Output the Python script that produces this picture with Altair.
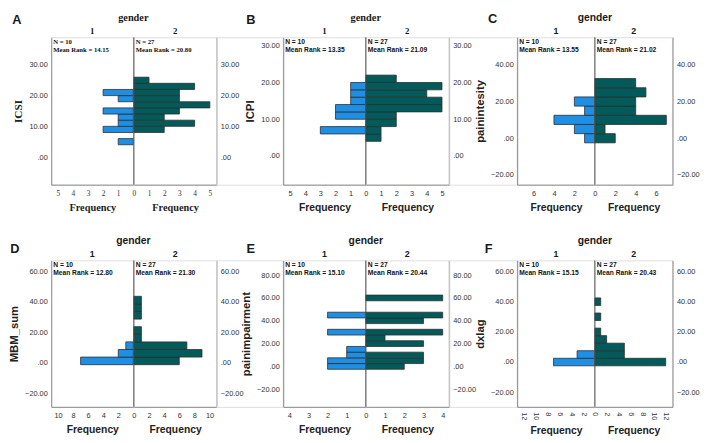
import altair as alt
import pandas as pd

# ---------------- data ----------------
letters = ["A", "B", "C", "D", "E", "F"]
variables = ["ICSI", "ICPI", "painintesity", "MBM_sum", "painimpairment", "dxlag"]
facet_title = "gender"
group_names = ["1", "2"]
n_g1 = [10, 10, 10, 10, 10, 10]
n_g2 = [27, 27, 27, 27, 27, 27]
rank_g1 = ["14.15", "13.35", "13.55", "12.80", "15.10", "15.15"]
rank_g2 = ["20.80", "21.09", "21.02", "21.30", "20.44", "20.43"]
bin_width = [2, 2, 5, 5, 5, 5]

A_lo = [4, 6, 8, 10, 12, 14, 16, 18, 20, 22, 24]
A_g1 = [1, 0, 2, 1, 1, 2, 0, 1, 2, 0, 0]
A_g2 = [0, 0, 2, 4, 2, 3, 5, 3, 3, 4, 1]

B_lo = [4, 6, 8, 10, 12, 14, 16, 18, 20]
B_g1 = [0, 3, 0, 2, 2, 1, 1, 1, 0]
B_g2 = [1, 1, 2, 2, 5, 5, 4, 5, 2]

C_lo = [-2.5, 2.5, 7.5, 12.5, 17.5, 22.5, 27.5]
C_g1 = [1, 2, 4, 1, 2, 0, 0]
C_g2 = [2, 1, 7, 4, 4, 5, 4]

D_lo = [-1.25, 3.75, 8.75, 13.75, 18.75, 23.75, 28.75, 33.75, 38.75]
D_g1 = [7, 2, 1, 0, 0, 0, 0, 0, 0]
D_g2 = [6, 9, 7, 1, 1, 0, 1, 1, 1]

E_lo = [-2.5, 2.5, 7.5, 12.5, 17.5, 22.5, 27.5, 32.5, 37.5, 42.5, 47.5, 52.5, 57.5]
E_g1 = [2, 2, 1, 1, 0, 0, 2, 0, 0, 2, 0, 0, 0]
E_g2 = [2, 3, 3, 0, 3, 1, 4, 0, 3, 4, 0, 0, 4]

F_lo = [-2.5, 2.5, 7.5, 12.5, 17.5, 22.5, 27.5, 32.5, 37.5]
F_g1 = [7, 3, 0, 0, 0, 0, 0, 0, 0]
F_g2 = [12, 5, 5, 2, 1, 0, 1, 0, 1]

bins_lo = [A_lo, B_lo, C_lo, D_lo, E_lo, F_lo]
counts_g1 = [A_g1, B_g1, C_g1, D_g1, E_g1, F_g1]
counts_g2 = [A_g2, B_g2, C_g2, D_g2, E_g2, F_g2]

y_ticks = [[0, 10, 20, 30], [0, 10, 20, 30], [-20, 0, 20, 40],
           [-20, 0, 20, 40, 60], [-20, 0, 20, 40, 60, 80], [-20, 0, 20, 40, 60]]
x_ticks = [[0, 1, 2, 3, 4, 5], [0, 1, 2, 3, 4, 5], [0, 2, 4, 6],
           [0, 2, 4, 6, 8, 10], [0, 1, 2, 3, 4], [0, 2, 4, 6, 8, 10, 12]]

# ---------------- layout / style ----------------
y_domain = [[-9, 39], [-7.8, 32.3], [-25.3, 55], [-29, 67.4], [-35.4, 92.9], [-29.7, 67.4]]
x_max = [5.43, 5.45, 7.6, 10.9, 4.32, 13.15]
# grid columns: left/right half of panel 1, gap, panel 2, gap, panel 3
col_w = [83.5, 84, 67.5, 84, 84.5, 68.5, 79, 79]
row_h = [150, 149]
row_gap = 77
x_angle = [0, 0, 0, 0, 0, 90]
letter_pos = [(-35, -17), (-33, -17), (-25, -19), (-37, -12), (-33, -12), (-29, -11)]

SANS = "Liberation Sans"
SERIF = "Liberation Serif"
fonts = [  # title, y-title, frequency, N-text, x tick labels
    dict(t=SERIF, y=SERIF, f=SERIF, n=SERIF, x=SERIF),
    dict(t=SERIF, y=SANS, f=SANS, n=SANS, x=SANS),
] + [dict(t=SANS, y=SANS, f=SANS, n=SANS, x=SANS)] * 4

BLUE = "#1f8fe3"
GREEN = "#035a5a"
EDGE = "#2e2e2e"
AXIS = "#8c8c8c"
LABEL = "#333333"
YFMT = "datum.value == 0 ? '.00' : format(datum.value, '.2f')"


def label(txt, x, y, size, font, align="center"):
    return alt.Chart(pd.DataFrame({"t": [txt]})).mark_text(
        align=align, baseline="middle", fontSize=size, fontWeight="bold",
        font=font, color="#1a1a1a"
    ).encode(x=alt.value(x), y=alt.value(y), text="t:N")


def half(i, side, w, h):
    f = fonts[i]
    cnt = counts_g1[i] if side == 0 else counts_g2[i]
    rows = [{"lo": l, "hi": l + bin_width[i], "n": c, "z": 0}
            for l, c in zip(bins_lo[i], cnt) if c > 0]
    df = pd.DataFrame(rows)
    xs = alt.Scale(domain=[0, x_max[i]], reverse=(side == 0), nice=False, zero=False)
    ys = alt.Scale(domain=y_domain[i], nice=False, zero=False)
    xt = x_ticks[i] if side == 1 else [t for t in x_ticks[i] if t != 0]
    xaxis = alt.Axis(values=xt, format="d", title="Frequency", ticks=False, grid=False,
                     labelFlush=False, labelOverlap=False, labelFontSize=7.5, labelColor=LABEL,
                     labelFont=f["x"], labelAngle=x_angle[i], labelPadding=5,
                     titleFont=f["f"], titleFontSize=10.5, titleFontWeight="bold",
                     titleColor="#222222", titlePadding=6, domainColor=AXIS)
    yargs = dict(orient="left" if side == 0 else "right", values=y_ticks[i], labelExpr=YFMT,
                 ticks=False, grid=False, labelOverlap=False, labelFontSize=7.5, labelColor=LABEL,
                 labelFont=SANS, labelPadding=4, domainColor=AXIS)
    if side == 0:
        yaxis = alt.Axis(title=variables[i], titleFont=f["y"], titleFontSize=11.5,
                         titleFontWeight="bold", titleColor="#222222", titlePadding=5, **yargs)
    else:
        yaxis = alt.Axis(title=None, **yargs)
    color = BLUE if side == 0 else GREEN
    bars = alt.Chart(df).mark_bar(color=color, stroke=EDGE, strokeWidth=0.8).encode(
        x=alt.X("n:Q", scale=xs, axis=xaxis),
        x2="z:Q",
        y=alt.Y("lo:Q", scale=ys, axis=yaxis),
        y2="hi:Q",
    )
    n = n_g1[i] if side == 0 else n_g2[i]
    r = rank_g1[i] if side == 0 else rank_g2[i]
    note = alt.Chart(pd.DataFrame({"t": [f"N = {n}\nMean Rank = {r}"]})).mark_text(
        align="left", baseline="top", fontSize=6.8, fontWeight="bold", lineBreak="\n",
        font=f["n"], color="#111111", lineHeight=8
    ).encode(x=alt.value(2), y=alt.value(2), text="t:N")
    layers = [bars, note, label(group_names[side], w / 2, -6, 9, f["t"])]
    if side == 1:
        rule = alt.Chart(pd.DataFrame({"z": [0]})).mark_rule(color="#555555", strokeWidth=1).encode(
            x=alt.X("z:Q", scale=xs, axis=xaxis))
        layers.append(rule)
    else:
        lx, ly = letter_pos[i]
        layers.append(label(letters[i], lx, ly, 13, SANS))
        layers.append(label(facet_title, w, -20, 10.5, f["t"]))
    return alt.layer(*layers).properties(width=w, height=h)


def spacer(w, h):
    return alt.Chart(pd.DataFrame({"a": [0]})).mark_point(opacity=0).encode(
        x=alt.value(0), y=alt.value(0)).properties(width=w, height=h)


cells = []
for r in range(2):
    h = row_h[r]
    for c in range(3):
        i = r * 3 + c
        base = c * 3
        cells.append(half(i, 0, col_w[base], h))
        cells.append(half(i, 1, col_w[base + 1], h))
        if c < 2:
            cells.append(spacer(col_w[base + 2], h))

chart = alt.concat(*cells, columns=8, spacing={"row": row_gap, "column": 0}, bounds="flush").properties(
    padding={"left": 0, "top": 0, "right": 0, "bottom": 0}
).configure_view(stroke=None).configure(background="white")

chart.save("out.html", embed_options={"renderer": "svg", "actions": False})
